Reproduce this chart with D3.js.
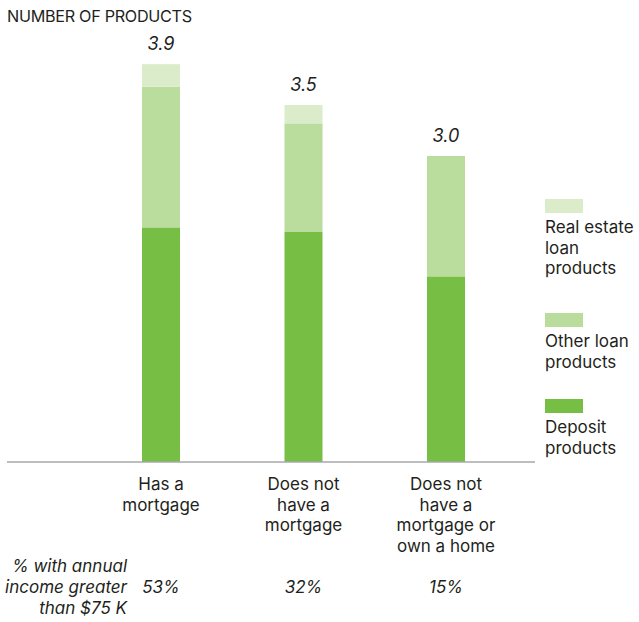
<!DOCTYPE html>
<html>
<head>
<meta charset="utf-8">
<script src="https://cdn.jsdelivr.net/npm/d3@7"></script>
<style>
  html, body { margin: 0; padding: 0; background: #fff; }
  svg { display: block; }
  text { font-family: Inter, "Open Sans", sans-serif; fill: #231f20; }
</style>
</head>
<body>
<svg id="chart" width="639" height="622"></svg>
<script>
// Groups of households and their label lines
const categories = ["mortgage", "noMortgage", "noHome"];
const categoryLabels = [
  ["Has a", "mortgage"],
  ["Does not", "have a", "mortgage"],
  ["Does not", "have a", "mortgage or", "own a home"]
];

// Average number of products held, by type
const depositProducts = [2.30, 2.26, 1.82];
const otherLoanProducts = [1.38, 1.06, 1.18];
const realEstateLoanProducts = [0.22, 0.18, 0.00];
const totalLabels = ["3.9", "3.5", "3.0"];

// Share of each group with annual income above $75K
const incomeShare = ["53%", "32%", "15%"];

const seriesKeys = ["deposit", "otherLoan", "realEstate"];
const seriesNames = [
  ["Real estate", "loan", "products"],
  ["Other loan", "products"],
  ["Deposit", "products"]
];
const colors = { deposit: "#76bf44", otherLoan: "#badc9d", realEstate: "#dbecca" };

const rows = categories.map((c, i) => ({
  cat: c,
  deposit: depositProducts[i],
  otherLoan: otherLoanProducts[i],
  realEstate: realEstateLoanProducts[i]
}));

const svg = d3.select("#chart");

const x = d3.scalePoint().domain(categories).range([161, 446]);
const y = d3.scaleLinear().domain([0, 4]).range([462, 54]);
const barW = 38;
const fs = "17px";
const lineH = 20.7;

const stack = d3.stack().keys(seriesKeys);
const layers = stack(rows);

// Axis title
svg.append("text")
  .attr("x", 7).attr("y", 22)
  .style("font-size", "16.2px")
  .style("letter-spacing", "-0.3px")
  .text("NUMBER OF PRODUCTS");

// Stacked bars
svg.append("g").selectAll("g")
  .data(layers)
  .join("g")
  .attr("fill", d => colors[d.key])
  .selectAll("rect")
  .data(d => d.filter(s => s[1] - s[0] > 0))
  .join("rect")
  .attr("x", d => x(d.data.cat) - barW / 2)
  .attr("width", barW)
  .attr("y", d => y(d[1]))
  .attr("height", d => y(d[0]) - y(d[1]));

// Totals above bars
svg.append("g").selectAll("text")
  .data(rows)
  .join("text")
  .attr("x", d => x(d.cat))
  .attr("y", d => y(d.deposit + d.otherLoan + d.realEstate) - 14)
  .attr("text-anchor", "middle")
  .style("font-size", "18px")
  .style("font-style", "italic")
  .text((d, i) => totalLabels[i]);

// Baseline
svg.append("line")
  .attr("x1", 7).attr("x2", 535)
  .attr("y1", y(0)).attr("y2", y(0))
  .attr("stroke", "#a7a9ac")
  .attr("stroke-width", 1.5);

// Category labels, one text per line
const catG = svg.append("g").selectAll("g")
  .data(categories)
  .join("g");
catG.selectAll("text")
  .data((d, i) => categoryLabels[i].map(t => ({ cat: d, t })))
  .join("text")
  .attr("text-anchor", "middle")
  .style("font-size", fs)
  .attr("x", d => x(d.cat))
  .attr("y", (d, i) => 490 + i * lineH)
  .text(d => d.t);

// Income row
const incLines = ["% with annual", "income greater", "than $75 K"];
svg.append("g").selectAll("text")
  .data(incLines)
  .join("text")
  .attr("text-anchor", "end")
  .style("font-size", fs)
  .style("font-style", "italic")
  .attr("x", 127)
  .attr("y", (d, i) => 572 + i * 21)
  .text(d => d);

svg.append("g").selectAll("text")
  .data(categories)
  .join("text")
  .attr("x", d => x(d))
  .attr("y", 593)
  .attr("text-anchor", "middle")
  .style("font-size", fs)
  .style("font-style", "italic")
  .text((d, i) => incomeShare[i]);

// Legend
const legendKeys = ["realEstate", "otherLoan", "deposit"];
const legendTop = [199, 313, 399];
const legend = svg.append("g").selectAll("g")
  .data(legendKeys)
  .join("g")
  .attr("transform", (d, i) => `translate(545,${legendTop[i]})`);
legend.append("rect")
  .attr("width", 38).attr("height", 14)
  .attr("fill", d => colors[d]);
legend.selectAll("text")
  .data((d, i) => seriesNames[i])
  .join("text")
  .style("font-size", fs)
  .attr("x", 0)
  .attr("y", (d, i) => 34 + i * lineH)
  .text(d => d);
</script>
</body>
</html>
